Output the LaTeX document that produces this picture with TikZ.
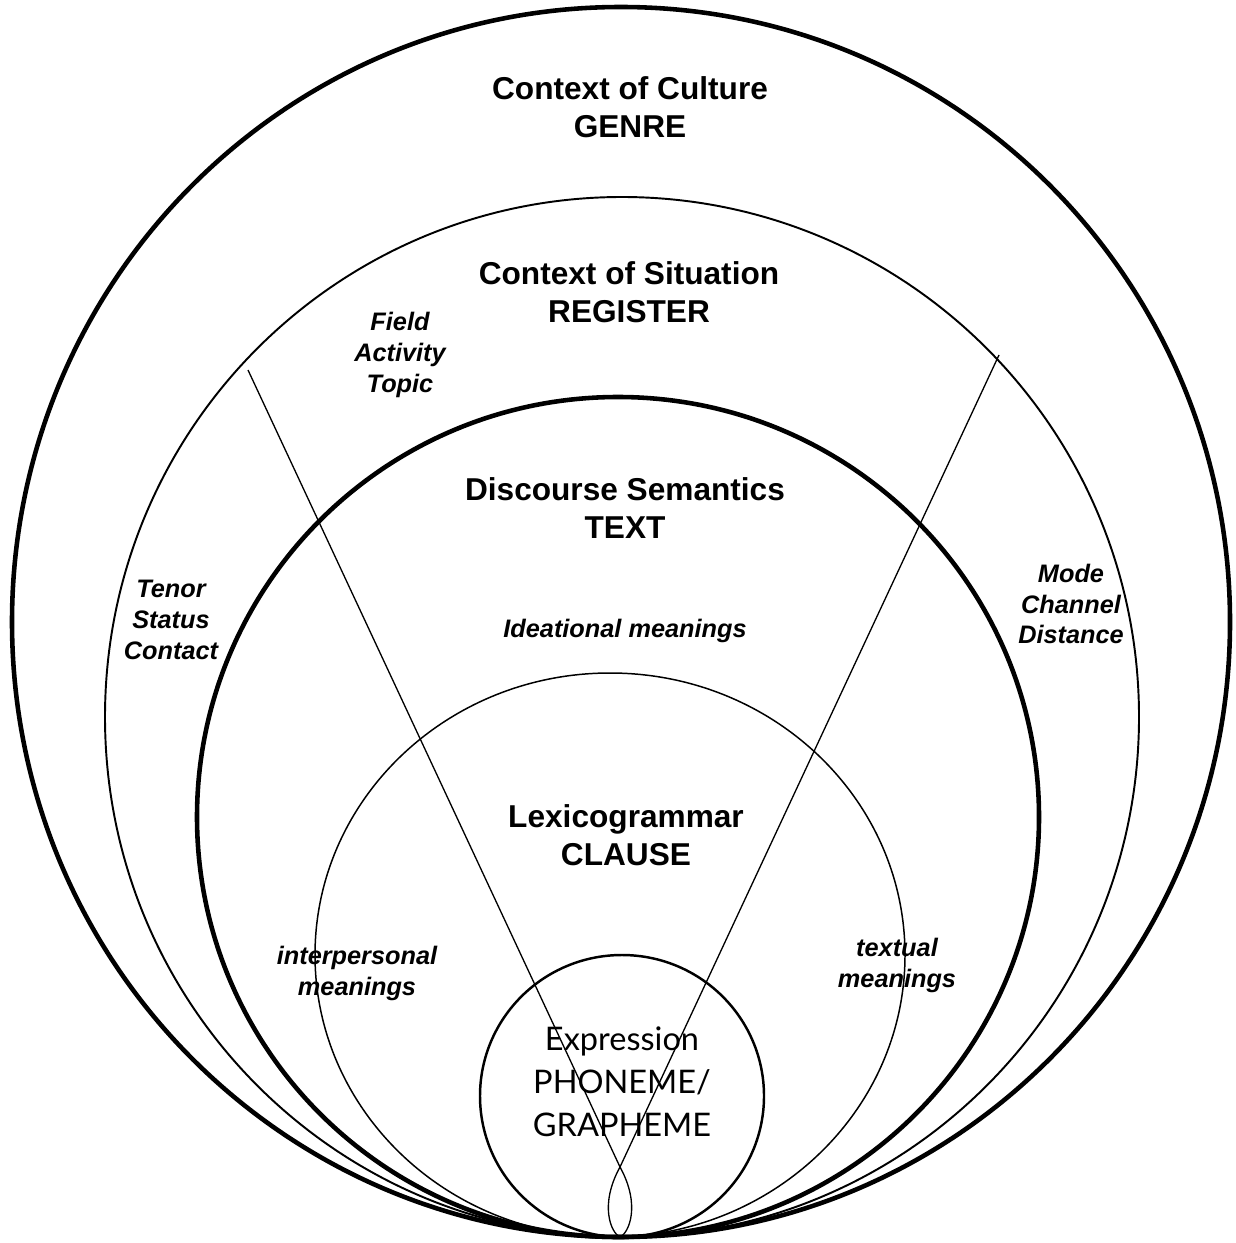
\documentclass[tikz,border=0pt]{standalone}
\usepackage{fontspec}
\setmainfont{Liberation Sans}
\newfontfamily\exprfont{Lato}
\usepackage{tikz}
\usetikzlibrary{positioning}
\tikzstyle{ring}=[draw=black, line width=1.1pt]
\tikzstyle{thickring}=[draw=black, line width=2.6pt]
\tikzstyle{thinring}=[draw=black, line width=0.85pt]
\tikzstyle{stratum}=[align=center, font=\fontsize{18}{21.6}\selectfont\bfseries, inner sep=0pt]
\tikzstyle{vlabel}=[align=center, font=\fontsize{14.4}{17.6}\selectfont\bfseries\itshape, inner sep=0pt]
\tikzstyle{expr}=[align=center, font=\exprfont\fontsize{18.5}{24.5}\selectfont, inner sep=0pt]
\tikzstyle{divider}=[draw=black, line width=0.75pt]

\begin{document}
\begin{tikzpicture}[x=0.02cm, y=-0.02cm]
\useasboundingbox (0,0) rectangle (1235,1243);
\fill[white] (0,0) rectangle (1235,1243);
% the five strata
\draw [thickring] (621,622) ellipse [x radius=609, y radius=615];
\draw [ring] (622,717) ellipse [x radius=517, y radius=520];
\draw [thickring] (618,817) ellipse [x radius=421, y radius=420];
\draw [thinring] (610,955) ellipse [x radius=295, y radius=282];
\draw [ring, line width=1.4pt] (622,1096) ellipse [x radius=142, y radius=141];
% metafunction dividers
\coordinate (fieldtop) at (248,370);
\coordinate (modetop) at (999,355);
\coordinate (cross) at (620,1167);
\coordinate (tip) at (620,1237);
\draw [divider] (fieldtop) -- (cross) .. controls (641,1205) and (629,1233) .. (tip);
\draw [divider] (modetop) -- (cross) .. controls (599,1205) and (611,1233) .. (tip);
% labels
\node [stratum] (culture) at (630,107) {Context of Culture\\GENRE};
\node [stratum] (situation) at (629,292) {Context of Situation\\REGISTER};
\node [stratum] (discourse) at (625,508) {Discourse Semantics\\TEXT};
\node [stratum] (lexico) at (626,835) {Lexicogrammar\\CLAUSE};
\node [expr] (expression) at (622,1082) {Expression\\PHONEME/\\GRAPHEME};
\node [vlabel] (field) at (400,355) {Field\\Activity\\Topic};
\node [vlabel] (tenor) at (171,620) {Tenor\\Status\\Contact};
\node [vlabel] (mode) at (1071,604) {Mode\\Channel\\Distance};
\node [vlabel] (ideational) at (625,631) {Ideational meanings};
\node [vlabel] (interpersonal) at (357,973) {interpersonal\\meanings};
\node [vlabel] (textual) at (897,965) {textual\\meanings};
\end{tikzpicture}
\end{document}
